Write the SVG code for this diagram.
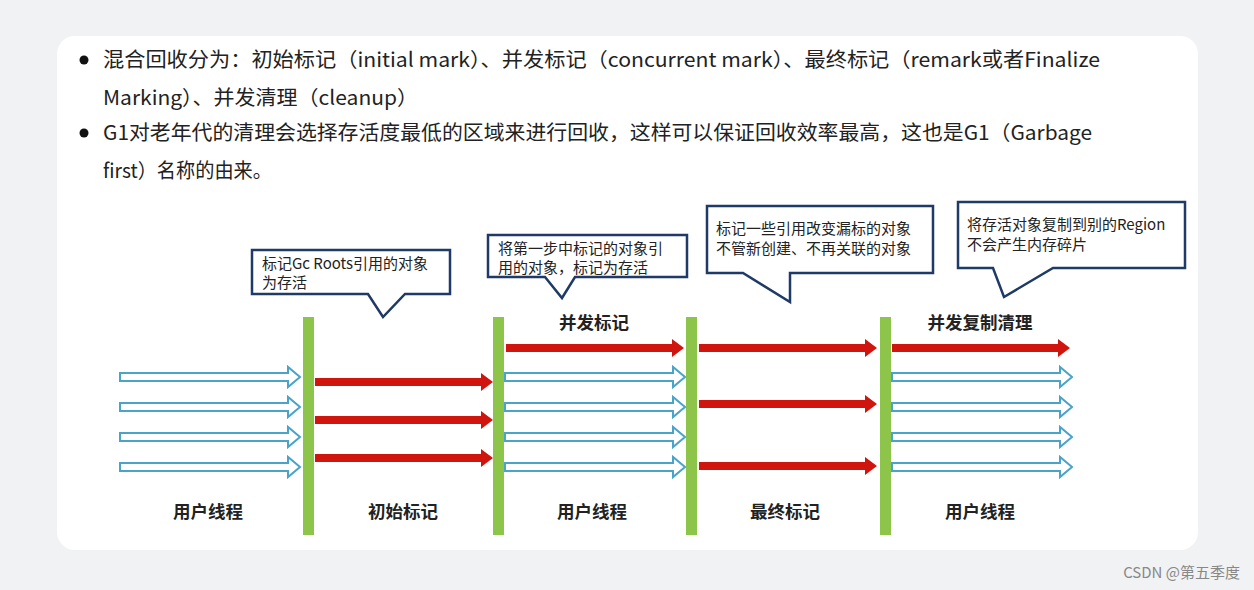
<svg xmlns="http://www.w3.org/2000/svg" width="1254" height="590" viewBox="0 0 1254 590">
<style>
.t{font-family:"Noto Sans CJK SC","Noto Sans",sans-serif;fill:#222}
.top{font-size:20px}
.c{font-size:15px;fill:#222}
.b{font-size:17.5px;font-weight:bold;text-anchor:middle}
.call{fill:#fff;stroke:#1f3a66;stroke-width:2.5}
.bar{fill:#8dc44a}
.red{fill:#d0150f}
.blue{fill:#fff;stroke:#4aa3c8;stroke-width:2}
</style>
<defs>
<path id="ha" class="blue" d="M0,-4 H168 V-10 L180,0 L168,10 V4 H0 Z"/>
<path id="ra" class="red" d="M0,-4 H166 V-9 L178,0 L166,9 V4 H0 Z"/>
</defs>
<rect width="1254" height="590" fill="#f1f2f4"/>
<rect x="57" y="36" width="1141" height="514" rx="18" fill="#fff"/>
<g id="text">
<circle cx="84" cy="60" r="4.5" fill="#111"/>
<circle cx="84" cy="133" r="4.5" fill="#111"/>
<text class="t top" x="103" y="67" textLength="997" lengthAdjust="spacingAndGlyphs">混合回收分为：初始标记（initial mark）、并发标记（concurrent mark）、最终标记（remark或者Finalize</text>
<text class="t top" x="103" y="105" textLength="315" lengthAdjust="spacingAndGlyphs">Marking）、并发清理（cleanup）</text>
<text class="t top" x="103" y="140" textLength="989" lengthAdjust="spacingAndGlyphs">G1对老年代的清理会选择存活度最低的区域来进行回收，这样可以保证回收效率最高，这也是G1（Garbage</text>
<text class="t top" x="103" y="178" textLength="169" lengthAdjust="spacingAndGlyphs">first）名称的由来。</text>
</g>
<g id="callouts">
<path class="call" d="M252,250 H450 V294 H405 L383,317 L368,294 H252 Z"/>
<text class="t c" x="262" y="269">标记Gc Roots引用的对象</text>
<text class="t c" x="262" y="288">为存活</text>
<path class="call" d="M488,235 H687 V277 H575 L562,298 L545,277 H488 Z"/>
<text class="t c" x="498" y="254">将第一步中标记的对象引</text>
<text class="t c" x="498" y="273">用的对象，标记为存活</text>
<path class="call" d="M707,206 H933 V273 H790 L790,302 L743,273 H707 Z"/>
<text class="t c" x="716" y="234">标记一些引用改变漏标的对象</text>
<text class="t c" x="716" y="254">不管新创建、不再关联的对象</text>
<path class="call" d="M958,202 H1185 V268 H1053 L1004,297 L993,268 H958 Z"/>
<text class="t c" x="967" y="230">将存活对象复制到别的Region</text>
<text class="t c" x="967" y="250">不会产生内存碎片</text>
</g>
<g id="bars">
<rect class="bar" x="303" y="317" width="11" height="218"/>
<rect class="bar" x="493" y="317" width="11" height="218"/>
<rect class="bar" x="686" y="317" width="11" height="218"/>
<rect class="bar" x="880" y="317" width="11" height="218"/>
</g>
<g id="connectors">
<use href="#ha" x="120" y="377"/><use href="#ha" x="120" y="407"/><use href="#ha" x="120" y="437"/><use href="#ha" x="120" y="467"/>
<use href="#ra" x="315" y="382"/><use href="#ra" x="315" y="420"/><use href="#ra" x="315" y="458"/>
<use href="#ra" x="506" y="348"/>
<use href="#ha" x="505" y="377"/><use href="#ha" x="505" y="407"/><use href="#ha" x="505" y="437"/><use href="#ha" x="505" y="467"/>
<use href="#ra" x="699" y="348"/><use href="#ra" x="699" y="404"/><use href="#ra" x="699" y="466"/>
<use href="#ra" x="892" y="348"/>
<use href="#ha" x="892" y="377"/><use href="#ha" x="892" y="407"/><use href="#ha" x="892" y="437"/><use href="#ha" x="892" y="467"/>
</g>
<g id="labels">
<text class="t b" x="594" y="329">并发标记</text>
<text class="t b" x="980" y="329">并发复制清理</text>
<text class="t b" x="208" y="518">用户线程</text>
<text class="t b" x="403" y="518">初始标记</text>
<text class="t b" x="592" y="518">用户线程</text>
<text class="t b" x="785" y="518">最终标记</text>
<text class="t b" x="980" y="518">用户线程</text>
</g>
<text x="1240" y="578" text-anchor="end" style="font-family:'Noto Sans CJK SC',sans-serif;font-size:15px;fill:#888">CSDN @第五季度</text>
</svg>
